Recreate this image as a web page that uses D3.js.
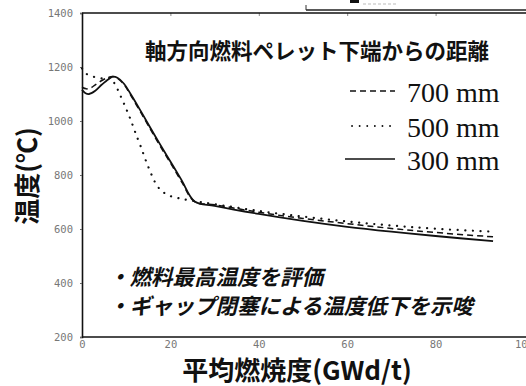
<!DOCTYPE html>
<html>
<head>
<meta charset="utf-8">
<script src="https://cdn.jsdelivr.net/npm/d3@7"></script>
<style>
  html, body { margin: 0; padding: 0; background: #fff; }
  svg { display: block; }
</style>
</head>
<body>
<script>
// Fuel temperature vs. average burnup at three axial positions
const xTicks = [0, 20, 40, 60, 80, 100];
const yTicks = [200, 400, 600, 800, 1000, 1200, 1400];

// 300 mm from pellet stack bottom (solid)
const burnup300 = [0, 0.8, 1.6, 3, 4.5, 6, 7, 8, 9.5, 11, 13, 15, 17.5, 20, 22.5, 25.5, 30, 40, 50, 60, 70, 80, 93];
const temp300   = [1115, 1103, 1100, 1112, 1135, 1155, 1164, 1160, 1138, 1100, 1045, 988, 918, 850, 782, 702, 686, 656, 630, 608, 590, 574, 555];

// 700 mm (dashed)
const burnup700 = [0, 1, 2, 3, 4.5, 6, 7, 8, 9.5, 11, 13, 15, 17.5, 20, 22.5, 25.5, 30, 40, 50, 60, 70, 80, 93];
const temp700   = [1125, 1119, 1123, 1134, 1150, 1162, 1165, 1158, 1135, 1096, 1040, 983, 912, 845, 776, 701, 690, 662, 639, 620, 602, 587, 571];

// 500 mm (dotted)
const burnup500 = [0, 1, 3, 5, 6.5, 7.5, 8.8, 10, 11, 12, 13.3, 15, 17, 18.5, 20, 22.5, 25.5, 30, 40, 50, 60, 70, 80, 93];
const temp500   = [1195, 1175, 1162, 1157, 1158, 1135, 1090, 1045, 1005, 960, 905, 830, 760, 735, 722, 712, 703, 692, 667, 646, 628, 613, 601, 590];

const legendTitle = "軸方向燃料ペレット下端からの距離";
const legendLabels = ["700 mm", "500 mm", "300 mm"];
const notes = ["・燃料最高温度を評価", "・ギャップ閉塞による温度低下を示唆"];
const xTitle = "平均燃焼度(GWd/t)";
const yTitle = "温度(℃)";

const W = 526, H = 386;
const svg = d3.select("body").append("svg").attr("width", W).attr("height", H);
svg.append("rect").attr("width", W).attr("height", H).attr("fill", "#fff");

const x = d3.scaleLinear().domain([0, 100]).range([82, 524]);
const y = d3.scaleLinear().domain([200, 1400]).range([337, 13]);

// clipped header fragment running off the top edge
const hdr = svg.append("g");
hdr.append("line").attr("x1", 306).attr("x2", W).attr("y1", 10).attr("y2", 10)
  .attr("stroke", "#222").attr("stroke-width", 1.5);
hdr.append("line").attr("x1", 306).attr("x2", 306).attr("y1", 5).attr("y2", 10)
  .attr("stroke", "#333").attr("stroke-width", 1);
hdr.append("rect").attr("x", 350).attr("y", 0).attr("width", 9).attr("height", 3).attr("fill", "#111");
hdr.append("line").attr("x1", 363).attr("x2", 398).attr("y1", 4).attr("y2", 4)
  .attr("stroke", "#bbb").attr("stroke-width", 1).attr("stroke-dasharray", "3,2");

const tickFont = "'DejaVu Sans Mono', monospace";

// left axis
const gy = svg.append("g").attr("transform", `translate(${x(0)},0)`)
  .call(d3.axisLeft(y).tickValues(yTicks).tickSize(2).tickPadding(7).tickFormat(d3.format("d")));
gy.select(".domain").attr("stroke", "#111").attr("stroke-width", 1.6);
gy.selectAll(".tick line").attr("stroke", "#666");
gy.selectAll(".tick text").attr("font-family", tickFont).attr("font-size", 10.5)
  .attr("fill", "#777");

// bottom axis; the last label runs past the right edge
const gx = svg.append("g").attr("transform", `translate(0,${y(200)})`)
  .call(d3.axisBottom(x).tickValues(xTicks).tickSize(0).tickPadding(4).tickFormat(d3.format("d")));
gx.select(".domain").remove();
gx.selectAll(".tick text").attr("font-family", tickFont).attr("font-size", 10.5)
  .attr("fill", "#777");
svg.append("line").attr("x1", x(0)).attr("x2", W).attr("y1", y(200)).attr("y2", y(200))
  .attr("stroke", "#111").attr("stroke-width", 1.6);

// top frame with inward ticks
const gt = svg.append("g").attr("transform", `translate(0,${y(1400)})`)
  .call(d3.axisTop(x).tickValues(xTicks.slice(1, 5)).tickSize(-3).tickFormat(""));
gt.select(".domain").remove();
gt.selectAll(".tick line").attr("stroke", "#888");
svg.append("line").attr("x1", x(0)).attr("x2", W).attr("y1", y(1400)).attr("y2", y(1400))
  .attr("stroke", "#111").attr("stroke-width", 1.6);

// curves
const line = d3.line().x(d => x(d[0])).y(d => y(d[1])).curve(d3.curveCatmullRom.alpha(0.5));
const series = [
  { bx: burnup500, ty: temp500, dash: "0.1,7.5", width: 2.2, cap: "round" },
  { bx: burnup700, ty: temp700, dash: "6,4", width: 1.5, cap: "butt" },
  { bx: burnup300, ty: temp300, dash: null, width: 1.8, cap: "butt" }
];
series.forEach(s => {
  svg.append("path").datum(d3.zip(s.bx, s.ty)).attr("d", line)
    .attr("fill", "none").attr("stroke", "#111").attr("stroke-width", s.width)
    .attr("stroke-linecap", s.cap).attr("stroke-dasharray", s.dash);
});

// legend
const jp = "'Noto Sans CJK JP', 'Noto Sans', sans-serif";
svg.append("text").attr("x", 145).attr("y", 59).text(legendTitle)
  .attr("font-family", jp).attr("font-weight", 700).attr("font-size", 21.5)
  .attr("fill", "#111");

const legendStyles = [
  { dash: "6,4", width: 1.3, cap: "butt", x1: 350 },
  { dash: "0.1,7.5", width: 1.8, cap: "round", x1: 352 },
  { dash: null, width: 1.6, cap: "butt", x1: 345 }
];
const legendY = [91, 126, 159];
legendLabels.forEach((lab, i) => {
  const st = legendStyles[i];
  svg.append("line").attr("x1", st.x1).attr("x2", 395).attr("y1", legendY[i]).attr("y2", legendY[i])
    .attr("stroke", "#111").attr("stroke-width", st.width)
    .attr("stroke-linecap", st.cap).attr("stroke-dasharray", st.dash);
  svg.append("text").attr("x", 407).attr("y", legendY[i] + 11).text(lab)
    .attr("font-family", "'Liberation Serif', 'Times New Roman', serif")
    .attr("font-size", 28).attr("fill", "#111");
});

// notes
notes.forEach((t, i) => {
  svg.append("text").attr("x", 108).attr("y", 285 + i * 29).text(t)
    .attr("font-family", jp).attr("font-weight", 700).attr("font-style", "italic")
    .attr("font-size", 21.5).attr("fill", "#111");
});

// axis titles
svg.append("text").attr("x", 297).attr("y", 380).attr("text-anchor", "middle").text(xTitle)
  .attr("font-family", jp).attr("font-weight", 700).attr("font-size", 26).attr("fill", "#111");
svg.append("text").attr("transform", "translate(37,176) rotate(-90)").attr("text-anchor", "middle")
  .text(yTitle).attr("font-family", jp).attr("font-weight", 700).attr("font-size", 26).attr("fill", "#111");
</script>
</body>
</html>
